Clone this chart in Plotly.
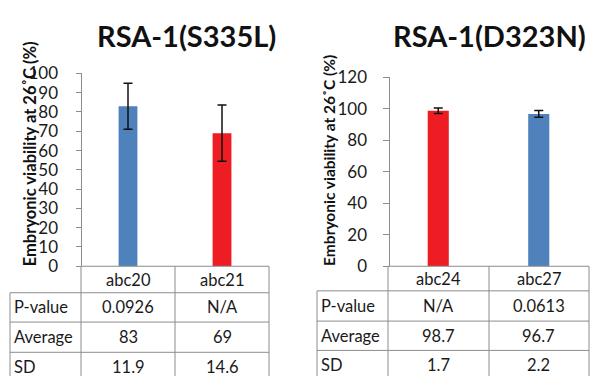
import plotly.graph_objects as go

W, H = 603, 385

# ---- data ----
titles = ["RSA-1(S335L)", "RSA-1(D323N)"]
cats_left = ["abc20", "abc21"]
vals_left = [83, 69]
sd_left = [11.9, 14.6]
colors_left = ["#4F81BD", "#EE1D23"]
pval_left = ["0.0926", "N/A"]
avg_left = ["83", "69"]
sdtxt_left = ["11.9", "14.6"]

cats_right = ["abc24", "abc27"]
vals_right = [98.7, 96.7]
sd_right = [1.7, 2.2]
colors_right = ["#EE1D23", "#4F81BD"]
pval_right = ["N/A", "0.0613"]
avg_right = ["98.7", "96.7"]
sdtxt_right = ["1.7", "2.2"]

row_labels = ["P-value", "Average", "SD"]
ytitle = "Embryonic viability at 26˚C (%)"
yticks_left = [0, 10, 20, 30, 40, 50, 60, 70, 80, 90, 100]
yticks_right = [0, 20, 40, 60, 80, 100, 120]

FONT = "Lato"
GRID = "#8C8C8C"
TXT = 16.5


def px(x):
    return x / W


def py(y):
    return 1 - y / H


fig = go.Figure()
fig.add_trace(go.Bar(x=cats_left, y=vals_left, marker_color=colors_left, width=0.2,
                     marker_line_width=0,
                     error_y=dict(type="data", array=sd_left, color="#111111", thickness=1.5, width=4.5),
                     xaxis="x", yaxis="y", showlegend=False))
fig.add_trace(go.Bar(x=cats_right, y=vals_right, marker_color=colors_right, width=0.21,
                     marker_line_width=0,
                     error_y=dict(type="data", array=sd_right, color="#111111", thickness=1.5, width=4.5),
                     xaxis="x2", yaxis="y2", showlegend=False))

xcommon = dict(showgrid=False, zeroline=False, showticklabels=False, showline=False, ticks="")
ycommon = dict(showgrid=False, zeroline=False, linecolor=GRID, linewidth=1, showline=True,
               ticks="outside", tickcolor=GRID,
               tickfont=dict(size=17, family=FONT, color="#1a1a1a"))
fig.update_layout(
    width=W, height=H, margin=dict(l=0, r=0, t=0, b=0),
    paper_bgcolor="white", plot_bgcolor="white",
    font=dict(family=FONT, color="#1a1a1a", size=TXT),
    xaxis=dict(domain=[px(81), px(269)], range=[-0.5, 1.5], anchor="y", **xcommon),
    yaxis=dict(domain=[py(270), py(66)], range=[0, 100], tickvals=yticks_left, ticklen=5,
               ticklabelstandoff=14, anchor="free", position=px(80.5), **ycommon),
    xaxis2=dict(domain=[px(388), px(589)], range=[-0.5, 1.5], anchor="y2", **xcommon),
    yaxis2=dict(domain=[py(270), py(70)], range=[0, 120], tickvals=yticks_right, ticklen=6,
                ticklabelstandoff=12, anchor="free", position=px(388.5), **ycommon),
)

shapes = []
annotations = []


def line(x0, y0, x1, y1):
    shapes.append(dict(type="line", xref="paper", yref="paper", x0=px(x0), y0=py(y0), x1=px(x1), y1=py(y1),
                       line=dict(color=GRID, width=1)))


def table(left, cols, rows_y, xaxis, cats, cells):
    line(cols[0], 270, cols[-1], 270)
    for c in cols:
        line(c, 270, c, 386)
    line(left, rows_y[0], left, 386)
    for ry in rows_y:
        line(left, ry, cols[-1], ry)
    cy = (270 + rows_y[0]) / 2
    for cat in cats:
        annotations.append(dict(x=cat, y=py(cy), xref=xaxis, yref="paper", text=cat, showarrow=False,
                                xanchor="center", yanchor="middle", font=dict(size=TXT, family=FONT)))
    bounds = rows_y + [rows_y[-1] + (rows_y[-1] - rows_y[-2])]
    for i, lab in enumerate(row_labels):
        ymid = (bounds[i] + bounds[i + 1]) / 2
        annotations.append(dict(x=px(left + 2), y=py(ymid), xref="paper", yref="paper", text=lab,
                                showarrow=False, xanchor="left", yanchor="middle",
                                font=dict(size=TXT, family=FONT)))
        for cat, val in zip(cats, cells[i]):
            annotations.append(dict(x=cat, y=py(ymid), xref=xaxis, yref="paper", text=val,
                                    showarrow=False, xanchor="center", yanchor="middle",
                                    font=dict(size=TXT, family=FONT)))


table(10, [81, 175, 269], [298, 329, 361], "x", cats_left, [pval_left, avg_left, sdtxt_left])
table(317, [388, 489, 589], [296, 328, 359], "x2", cats_right, [pval_right, avg_right, sdtxt_right])

# titles
for t, cx in zip(titles, [186, 489]):
    annotations.append(dict(x=px(cx), y=py(26), xref="paper", yref="paper", text="<b>" + t + "</b>",
                            showarrow=False, xanchor="center", yanchor="middle",
                            font=dict(size=29, family=FONT, color="#111111")))
# y-axis titles
annotations.append(dict(x=px(29.5), y=py(151), xref="paper", yref="paper", text="<b>" + ytitle + "</b>",
                        showarrow=False, textangle=-90, xanchor="center", yanchor="middle",
                        font=dict(size=16.5, family=FONT, color="#111111")))
annotations.append(dict(x=px(329.5), y=py(158), xref="paper", yref="paper", text="<b>" + ytitle + "</b>",
                        showarrow=False, textangle=-90, xanchor="center", yanchor="middle",
                        font=dict(size=15.5, family=FONT, color="#111111")))

fig.update_layout(shapes=shapes, annotations=annotations)
fig.write_html("out.html")
